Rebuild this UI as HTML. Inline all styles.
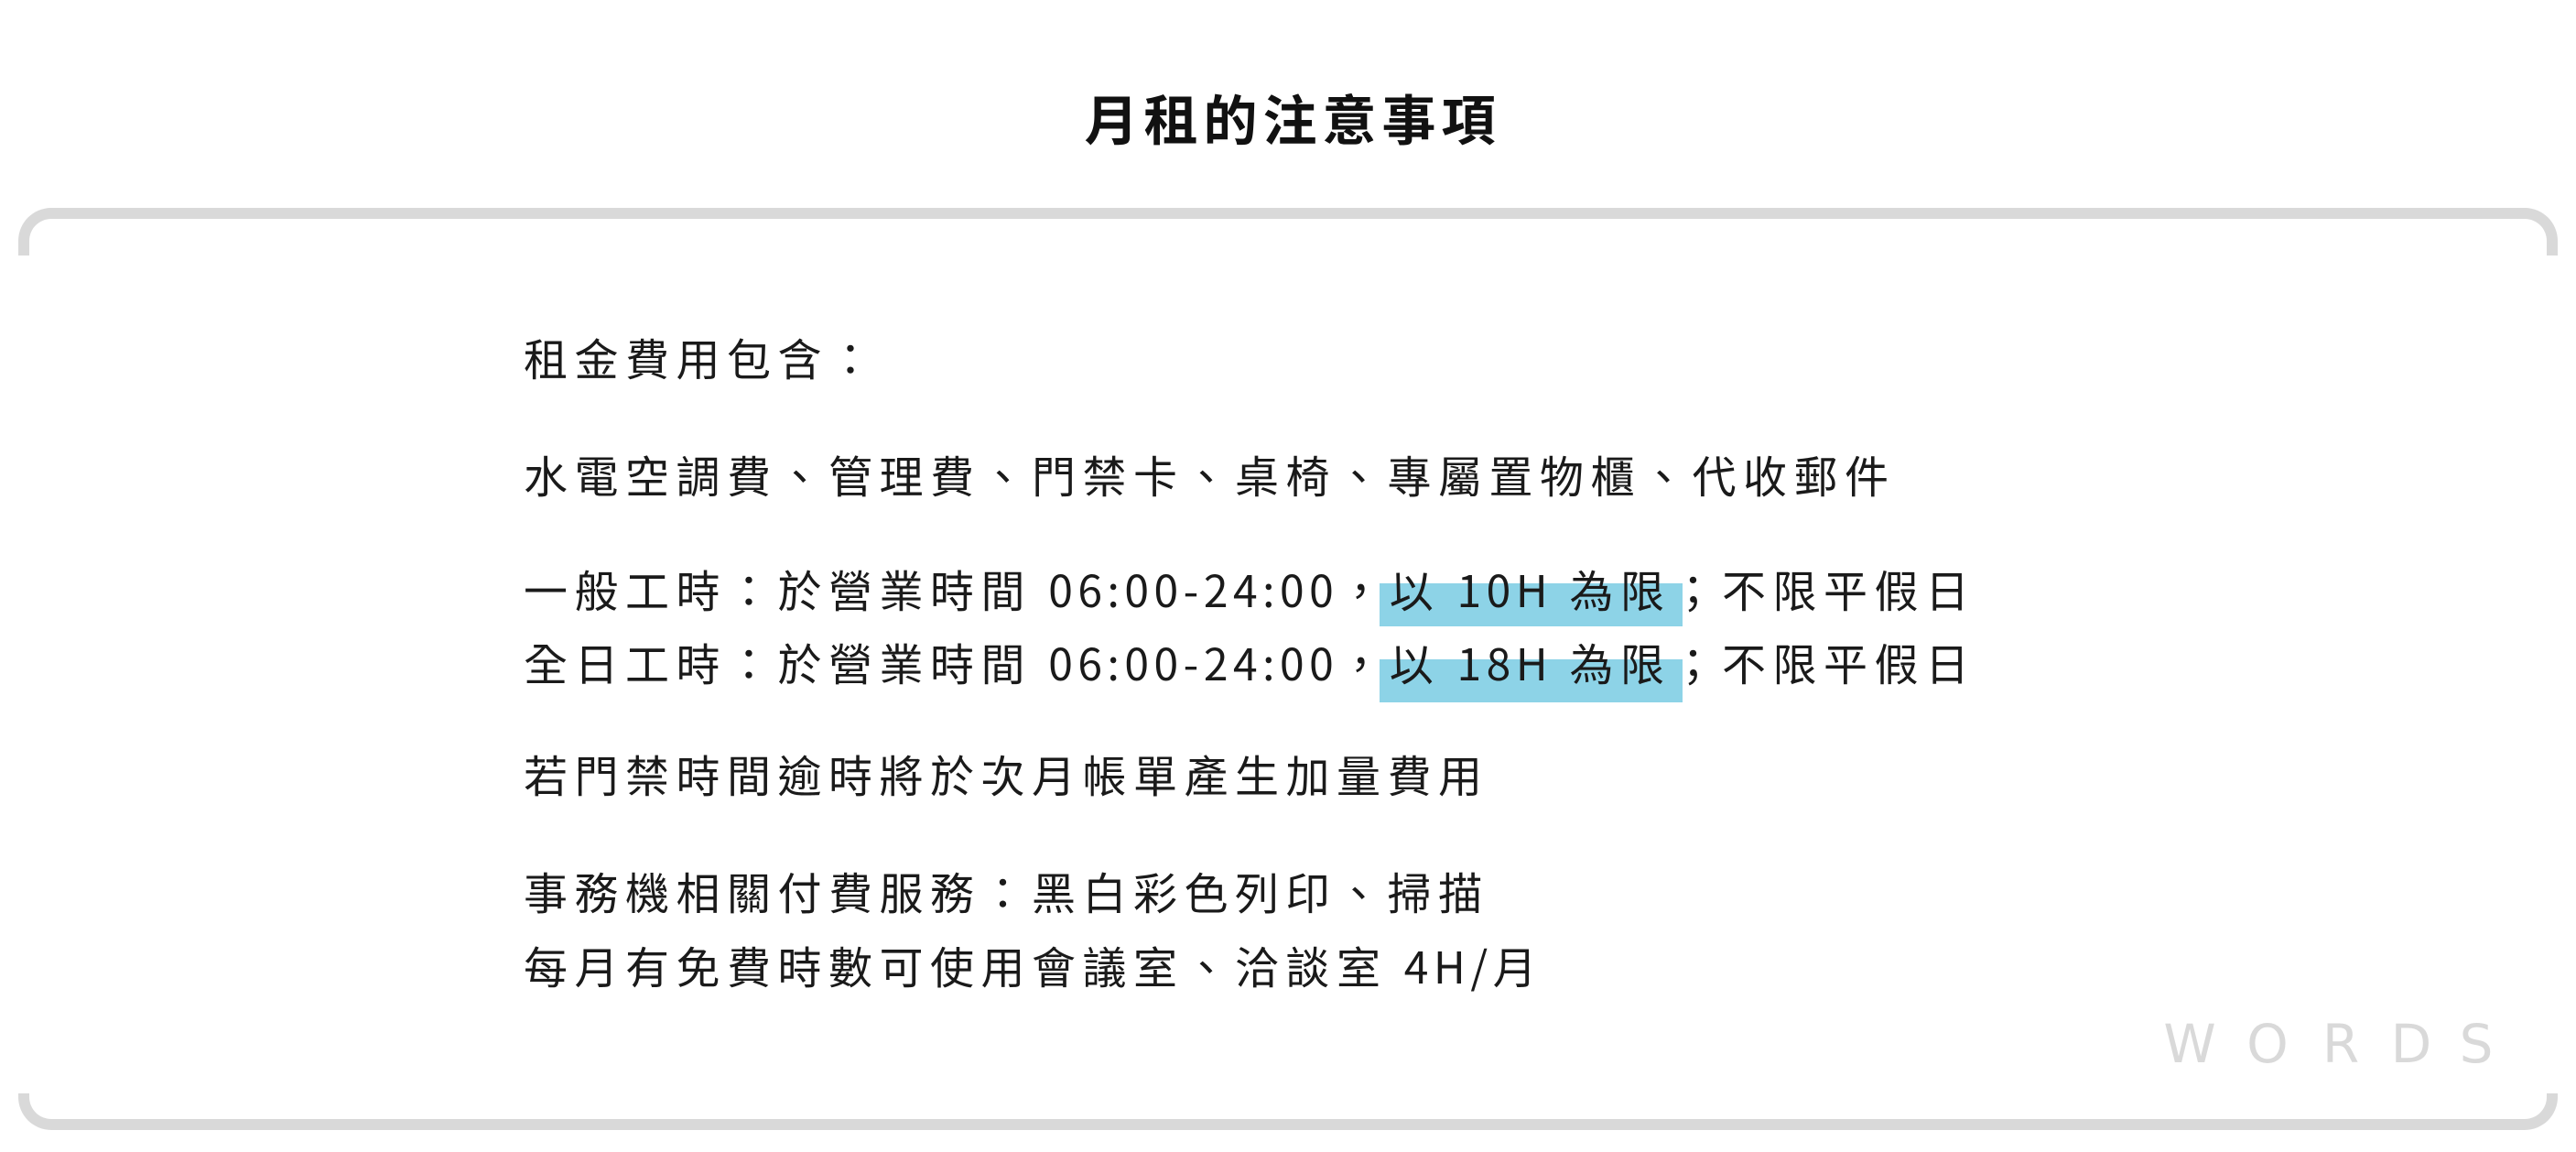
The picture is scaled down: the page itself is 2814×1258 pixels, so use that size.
<!DOCTYPE html>
<html><head><meta charset="utf-8"><style>
html,body{margin:0;padding:0;width:2814px;height:1258px;background:#fff;overflow:hidden;position:relative}
body{font-family:"Liberation Sans","Noto Sans CJK TC",sans-serif;}
.t{position:absolute;left:0;top:98px;width:2814px;text-align:center;font-family:"Noto Sans CJK TC",sans-serif;font-weight:bold;font-size:59px;line-height:60px;letter-spacing:6px;color:#111;text-indent:10px}
.top{position:absolute;left:20px;top:227px;width:2750px;height:40px;border:12px solid #d9d9d9;border-bottom:none;border-radius:36px 36px 0 0}
.bot{position:absolute;left:20px;top:1194px;width:2750px;height:28px;border:12px solid #d9d9d9;border-top:none;border-radius:0 0 36px 36px}
.l{position:absolute;left:572px;font-family:"Noto Sans CJK TC",sans-serif;font-size:48px;line-height:60px;letter-spacing:7.5px;color:#1a1a1a;white-space:nowrap}
.d{letter-spacing:5.5px}
.hl{position:absolute;left:1507px;width:331px;height:47px;background:#8dd3e7}
.w{position:absolute;top:1110px;font-family:"DejaVu Sans",sans-serif;font-size:58px;line-height:60px;color:#d9d9d9;transform:translateX(-50%)}
</style></head><body>
<div class="t">月租的注意事項</div>
<div class="top"></div>
<div class="bot"></div>
<div class="hl" style="top:637px"></div>
<div class="hl" style="top:720px"></div>
<div class="l" style="top:359px">租金費用包含：</div>
<div class="l" style="top:487px">水電空調費、管理費、門禁卡、桌椅、專屬置物櫃、代收郵件</div>
<div class="l" style="top:612px">一般工時：於營業時間 <span class="d">06:00-24:00</span>，以 <span class="d">10H</span> 為限；不限平假日</div>
<div class="l" style="top:692px">全日工時：於營業時間 <span class="d">06:00-24:00</span>，以 <span class="d">18H</span> 為限；不限平假日</div>
<div class="l" style="top:814px">若門禁時間逾時將於次月帳單產生加量費用</div>
<div class="l" style="top:942px">事務機相關付費服務：黑白彩色列印、掃描</div>
<div class="l" style="top:1023px">每月有免費時數可使用會議室、洽談室 <span class="d">4H/</span>月</div>
<div class="w" style="left:2392px">W</div>
<div class="w" style="left:2477px">O</div>
<div class="w" style="left:2557px">R</div>
<div class="w" style="left:2634px">D</div>
<div class="w" style="left:2705px">S</div>
</body></html>
